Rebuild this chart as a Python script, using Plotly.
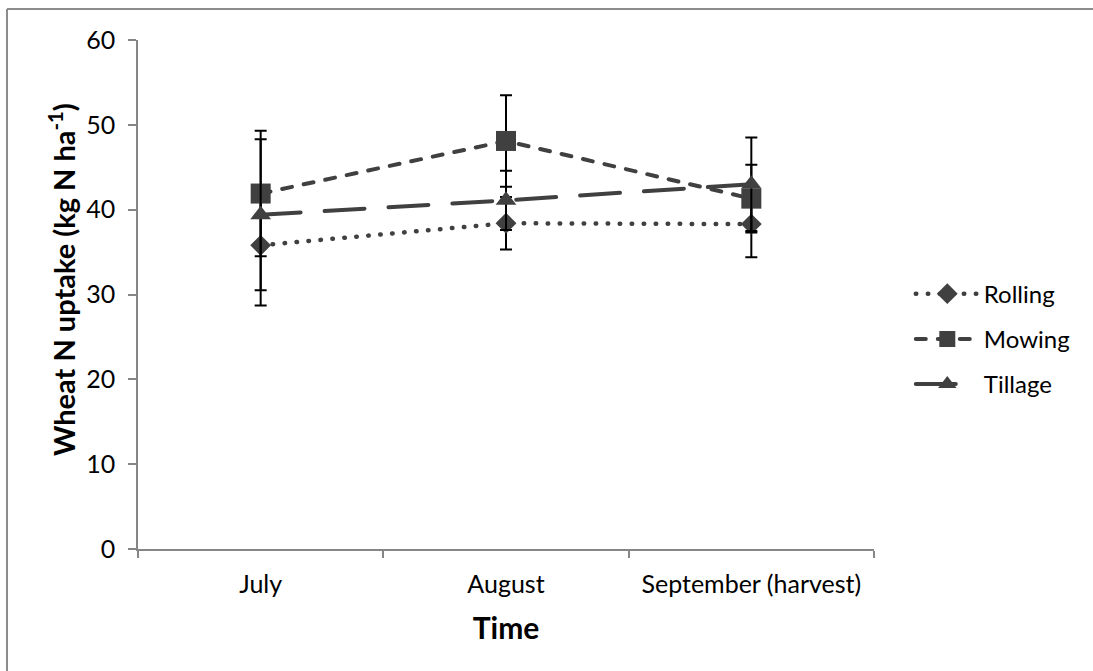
import plotly.graph_objects as go

# Sampling dates (categorical x axis)
months = ["July", "August", "September (harvest)"]

# Mean wheat N uptake (kg N/ha) and standard errors per treatment
rolling = [35.8, 38.4, 38.3]
rolling_err = [7.1, 3.1, 3.9]

mowing = [41.9, 48.1, 41.3]
mowing_err = [7.4, 5.4, 4.0]

tillage = [39.4, 41.1, 43.0]
tillage_err = [8.9, 3.5, 5.5]

y_ticks = [0, 10, 20, 30, 40, 50, 60]

DARK = "#404040"
AXIS = "#868686"
FONT = "Lato"

# plot area in pixels: x 138..874, y 40..549
PW, PH = 736, 509

series = [
    ("Rolling", rolling, rolling_err, "diamond", 16, 4.5, "0.5px,11.5px"),
    ("Mowing", mowing, mowing_err, "square", 20, 4, "10px,12px"),
    ("Tillage", tillage, tillage_err, "triangle-up", 18, 4, "40px,24px"),
]

fig = go.Figure()
for name, vals, errs, sym, size, lw, dash in series:
    fig.add_trace(go.Scatter(
        x=months, y=vals, name=name, mode="lines+markers",
        legendgroup=name,
        line=dict(color=DARK, width=lw, dash=dash),
        marker=dict(symbol=sym, size=size, color=DARK),
        error_y=dict(type="data", array=errs, visible=True,
                     color="black", thickness=2, width=6),
    ))

fig.update_layout(
    width=1093, height=671,
    margin=dict(l=138, r=219, t=40, b=122),
    paper_bgcolor="white", plot_bgcolor="white",
    font=dict(family=FONT, color="black", size=25),
    showlegend=True,
    legend=dict(x=1.05, y=0.545, xanchor="left", yanchor="top",
                font=dict(size=24, family=FONT), tracegroupgap=11,
                itemwidth=63, bgcolor="rgba(0,0,0,0)"),
    xaxis=dict(
        type="category", range=[-0.5, 2.5],
        showline=True, linecolor=AXIS, linewidth=1.5,
        ticks="outside", tickson="boundaries", ticklen=7,
        tickcolor=AXIS, tickwidth=1.5, showgrid=False,
        tickfont=dict(size=25), ticklabelstandoff=12,
        title=dict(text="<b>Time</b>", font=dict(size=30), standoff=21),
    ),
    yaxis=dict(
        range=[0, 60], tickvals=y_ticks,
        showline=True, linecolor=AXIS, linewidth=1.5,
        ticks="outside", ticklen=8, tickcolor=AXIS, tickwidth=1.5,
        showgrid=False, zeroline=False,
        tickfont=dict(size=25), ticklabelstandoff=8,
    ),
    annotations=[
        dict(text="<b>Wheat N uptake (kg N ha<sup>-1</sup>)</b>",
             textangle=-90, xref="paper", yref="paper",
             x=0, y=(549 - 280) / PH, xshift=-76,
             xanchor="center", yanchor="middle", showarrow=False,
             font=dict(size=29, family=FONT, color="black")),
    ],
    shapes=[
        # chart frame (top and left edges)
        dict(type="line", xref="paper", yref="paper",
             x0=-131 / PW, x1=1.5, y0=1 + 31 / PH, y1=1 + 31 / PH,
             line=dict(color="#8c8c8c", width=2)),
        dict(type="line", xref="paper", yref="paper",
             x0=-131 / PW, x1=-131 / PW, y0=1 + 31 / PH, y1=-0.5,
             line=dict(color="#8c8c8c", width=2)),
    ],
)

# round line caps for the dotted/dashed series
post = """
var gd = document.getElementsByClassName('plotly-graph-div')[0];
function roundCaps(){
  document.querySelectorAll('.scatterlayer .js-line, .legend .js-line').forEach(function(p){
    p.style.strokeLinecap = 'round';
  });
}
roundCaps();
gd.on('plotly_afterplot', roundCaps);
"""

fig.write_html("out.html", post_script=post)
